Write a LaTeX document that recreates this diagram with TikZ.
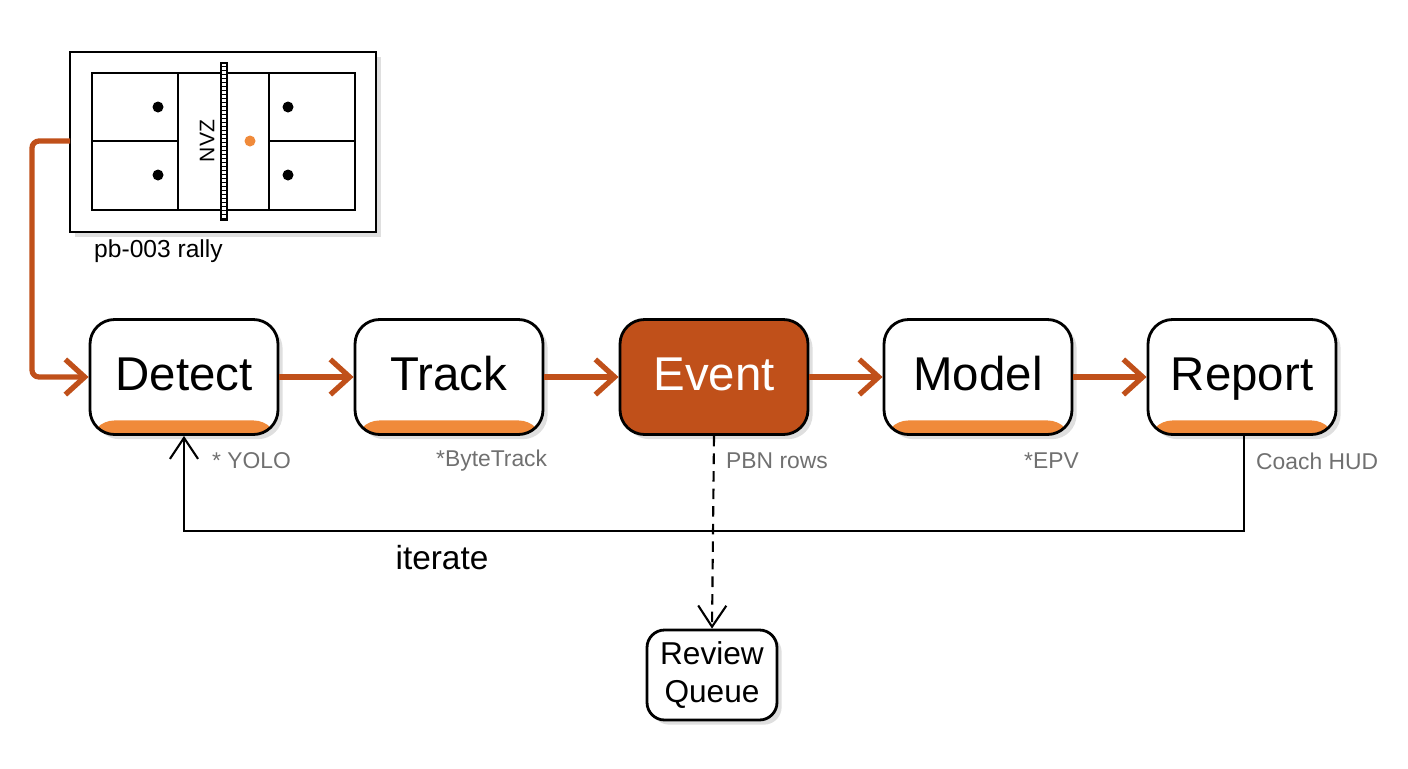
\documentclass[tikz,border=0pt]{standalone}
\usepackage{fontspec}
\setmainfont{Liberation Sans}
\usetikzlibrary{arrows.meta,shadows}
\definecolor{rust}{HTML}{C0501A}
\definecolor{stripe}{HTML}{F08A3A}
\definecolor{note}{HTML}{707070}
\tikzset{
  stage/.style={draw=black, line width=1.6pt, rounded corners=14pt, minimum width=188*0.02cm,
    minimum height=115*0.02cm, fill=white, drop shadow={opacity=0.25},
    text height=20pt, text depth=5pt, font=\fontsize{27}{27}\selectfont,
    path picture={\fill[stripe] ([yshift=-1pt]path picture bounding box.south west) rectangle ([yshift=8pt]path picture bounding box.south east);}},
  flow/.style={draw=rust, line width=3pt, -{Straight Barb[length=11pt,width=20pt,line width=3pt]}},
  tag/.style={text=note, font=\fontsize{13}{13}\selectfont, anchor=west},
  openarrow/.style={-{Straight Barb[length=12pt,width=16pt]}, line width=1.2pt}
}
\begin{document}
\begin{tikzpicture}[x=0.02cm,y=-0.02cm]
  \useasboundingbox (0,0) rectangle (1408,768);
  % court thumbnail
  \draw[line width=1.2pt, fill=white, drop shadow={opacity=0.25}] (70,52) rectangle (376,232);
  \draw[line width=1.2pt] (92,73) rectangle (355,210);
  \draw[line width=1.2pt] (178,73) -- (178,210) (269,73) -- (269,210);
  \draw[line width=1.2pt] (92,141) -- (178,141) (269,141) -- (355,141);
  \draw[line width=1pt, fill=white] (221,63) rectangle (227,220);
  \foreach \yy in {66,70,...,218} \draw[line width=0.3pt] (221,\yy) -- (227,\yy);
  \node[rotate=90, font=\fontsize{12}{12}\selectfont] (nvz) at (207,141) {NVZ};
  \foreach \px/\py in {158/107, 158/175, 288/107, 288/175}
    \fill (\px,\py) circle (5.5);
  \fill[stripe] (250,141) circle (5.5);
  \node[anchor=west, font=\fontsize{14}{14}\selectfont] (rally) at (88,251) {pb-003 rally};
  \coordinate (court) at (70,141);
  % stages
  \node[stage] (detect) at (184,377) {Detect};
  \node[stage] (track) at (449,377) {Track};
  \node[stage, fill=rust, text=white, path picture={}] (event) at (714,377) {Event};
  \node[stage] (model) at (978,377) {Model};
  \node[stage] (report) at (1242,377) {Report};
  \node[draw=black, line width=1.6pt, rounded corners=10pt, fill=white, drop shadow={opacity=0.25},
    minimum width=130*0.02cm, minimum height=90*0.02cm, align=center,
    font=\fontsize{18}{22}\selectfont] (review) at (712,675) {Review\\Queue};
  % flow
  \coordinate (bend) at (32,141);
  \draw[flow, rounded corners=4pt] (court) -- (bend) |- (detect.west);
  \draw[flow] (detect) -- (track);
  \draw[flow] (track) -- (event);
  \draw[flow] (event) -- (model);
  \draw[flow] (model) -- (report);
  % notes
  \node[tag] (yolo) at (206,461) {* YOLO};
  \node[tag] (bytetrack) at (430,461) {*ByteTrack};
  \node[tag] (pbn) at (720,461) {PBN rows};
  \node[tag] (epv) at (1018,461) {*EPV};
  \node[tag] (hud) at (1250,461) {Coach HUD};
  % loop and review
  \coordinate (loopr) at (1244,531);
  \draw[openarrow] (report.south -| loopr) -- (loopr) -| (detect.south);
  \node[font=\fontsize{19}{19}\selectfont] (iterate) at (442,558) {iterate};
  \draw[openarrow, dash pattern=on 6pt off 4pt] (event.south) -- (review.north);
\end{tikzpicture}
\end{document}
